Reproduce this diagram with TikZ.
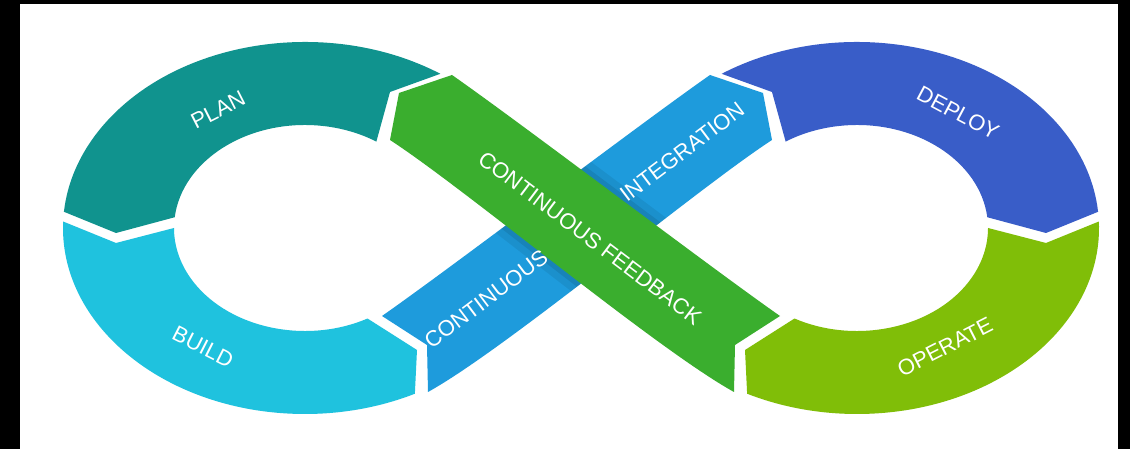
\documentclass[tikz,border=0pt]{standalone}
\usepackage{fontspec}
\setsansfont{Liberation Sans}
\usetikzlibrary{calc}
\definecolor{plancol}{HTML}{10938E}
\definecolor{buildcol}{HTML}{1FC2DE}
\definecolor{cicol}{HTML}{1E9BDC}
\definecolor{deploycol}{HTML}{395DC8}
\definecolor{operatecol}{HTML}{80BE08}
\definecolor{fbcol}{HTML}{3AAE2E}

\begin{document}
\begin{tikzpicture}[x=1pt, y=1pt,
    lbl/.style={text=white, font=\sffamily\fontsize{22}{24}\selectfont, inner sep=0pt}]
    \useasboundingbox (0,0) rectangle (1130,449);
    \fill[black] (0,0) rectangle (1130,449);
    \fill[white] (20,0) rectangle (1118,445);

    \coordinate (L) at (305,221);
    \coordinate (R) at (857,221);

    \coordinate (A1) at (382,133);
    \coordinate (A2) at (710,374);
    \coordinate (B1) at (428,57);
    \coordinate (B2) at (772,309);
    \coordinate (T) at (763,356);
    \coordinate (N) at (427,104);

    \coordinate (GA1) at (780,133);
    \coordinate (GA2) at (452,374);
    \coordinate (GB1) at (734,57);
    \coordinate (GB2) at (390,309);
    \coordinate (GT) at (399,356);
    \coordinate (GN) at (735,104);

    \fill[plancol] ($(L)+(56:242 and 186)$) arc[start angle=56, end angle=175, x radius=242, y radius=186]
        -- (116,216) -- ($(L)+(174:131 and 103)$) arc[start angle=174, end angle=57, x radius=131, y radius=103]
        -- (390,357) -- cycle;
    \fill[buildcol] ($(L)+(178:242 and 186)$) arc[start angle=178, end angle=297, x radius=242, y radius=186]
        -- (417,99) -- ($(L)+(298.5:131 and 103)$) arc[start angle=298.5, end angle=180, x radius=131, y radius=103]
        -- (116,206) -- cycle;
    \fill[deploycol] ($(R)+(124:242 and 186)$) arc[start angle=124, end angle=5, x radius=242, y radius=186]
        -- (1046,216) -- ($(R)+(6:131 and 103)$) arc[start angle=6, end angle=123, x radius=131, y radius=103]
        -- (772,357) -- cycle;
    \fill[operatecol] ($(R)+(2:242 and 186)$) arc[start angle=2, end angle=-117, x radius=242, y radius=186]
        -- (745,99) -- ($(R)+(-118.5:131 and 103)$) arc[start angle=-118.5, end angle=0, x radius=131, y radius=103]
        -- (1046,206) -- cycle;

    \path[save path=\cipath] (A1) .. controls +(35:90) and +(215:90) .. (A2) -- (T) -- (B2)
        .. controls +(213:90) and +(29:90) .. (B1) -- (N) -- cycle;
    \path[save path=\fbpath] (GA1) .. controls +(145:90) and +(325:90) .. (GA2) -- (GT) -- (GB2)
        .. controls +(327:90) and +(151:90) .. (GB1) -- (GN) -- cycle;

    \fill[cicol, use path=\cipath];
    \begin{scope}
        \clip[use path=\cipath];
        \draw[black, opacity=0.07, line width=24, use path=\fbpath];
        \draw[black, opacity=0.09, line width=10, use path=\fbpath];
    \end{scope}
    \fill[fbcol, use path=\fbpath];

    \node[lbl, rotate=27] (plan) at (218,339) {PLAN};
    \node[lbl, rotate=-27] (build) at (203,102) {BUILD};
    \node[lbl, rotate=-28] (deploy) at (958,336) {DEPLOY};
    \node[lbl, rotate=27] (operate) at (945,102) {OPERATE};
    \node[lbl, rotate=37] (cont) at (486,150) {CONTINUOUS};
    \node[lbl, rotate=37] (integ) at (682,297) {INTEGRATION};
    \node[lbl, rotate=-37] (feedback) at (590,211) {CONTINUOUS FEEDBACK};
\end{tikzpicture}
\end{document}
